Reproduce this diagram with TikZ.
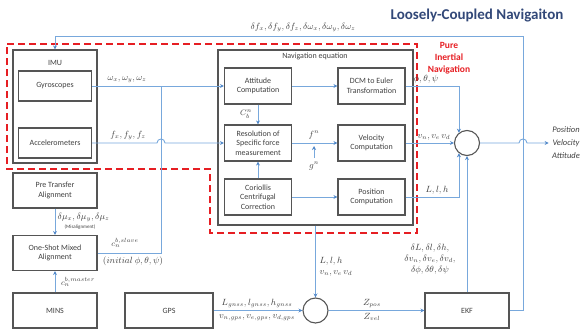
\documentclass[tikz,border=0pt]{standalone}
\usepackage{fontspec}
\setmainfont{Carlito}
\usetikzlibrary{arrows.meta}
\definecolor{wireblue}{RGB}{120,168,220}
\definecolor{tipblue}{RGB}{80,135,200}
\definecolor{framegray}{RGB}{85,85,85}
\definecolor{titleblue}{RGB}{50,72,120}
\definecolor{purered}{RGB}{230,30,35}
\tikzset{
  block/.style={draw=framegray, line width=1.1pt, align=center, text=black!75,
    font=\fontsize{8}{9.5}\selectfont, inner sep=1pt},
  navblock/.style={block, minimum width=67pt, minimum height=36pt},
  leftblock/.style={block, minimum width=84pt, minimum height=35pt},
  sumpoint/.style={circle, draw=framegray, line width=1.1pt, minimum size=25pt, inner sep=0pt},
  mathlbl/.style={font=\fontsize{9}{11}\selectfont, text=black!75, inner sep=0.5pt, align=center},
  wire/.style={draw=wireblue, line width=0.9pt},
  arrowed/.style={wire, -{Stealth[length=4pt,width=4pt,color=tipblue]}}
}
\begin{document}
\begin{tikzpicture}[x=1pt,y=-1pt]
  \useasboundingbox (0,0) rectangle (583,329);

  % outer frames
  \node[block, minimum width=84pt, minimum height=113pt] (imu) at (55,106.5) {};
  \node[block, draw=none] at (55,63) {IMU};
  \node[block, minimum width=195pt, minimum height=175pt] (nav) at (315.5,137.5) {};
  \node[block, draw=none] at (315,56) {Navigation equation};

  % blocks
  \begin{scope}[every node/.style = {navblock}]
    \node (att) at (258,86) {Attitude\\Computation};
    \node (res) at (258,143) {Resolution of\\Specific force\\measurement};
    \node (cor) at (258,197) {Coriollis\\Centrifugal\\Correction};
    \node (dcm) at (371.5,86) {DCM to Euler\\Transformation};
    \node (vel) at (371.5,143) {Velocity\\Computation};
    \node (pos) at (371.5,197) {Position\\Computation};
  \end{scope}
  \begin{scope}[every node/.style = {leftblock}]
    \node[minimum width=73pt, minimum height=30pt] (gyro) at (55,86) {Gyroscopes};
    \node[minimum width=73pt, minimum height=30pt] (acc) at (55,143) {Accelerometers};
    \node (pre) at (55,190.5) {Pre Transfer\\Alignment};
    \node (align) at (55,253) {One-Shot Mixed\\Alignment};
    \node (mins) at (55,310.5) {MINS};
    \node[minimum width=88pt] (gps) at (169,310.5) {GPS};
    \node (ekf) at (467,310.5) {EKF};
  \end{scope}
  \node[sumpoint] (sumt) at (467,143) {};
  \node[sumpoint] (sumb) at (315.5,310.5) {};

  % pure inertial part
  \draw[purered, line width=2pt, dash pattern=on 7pt off 4pt]
    (7,44) -- (417,44) -- (417,233) -- (210,233) -- (210,169) -- (7,169) -- cycle;
  \node[font=\bfseries\fontsize{9.5}{12}\selectfont, text=purered, align=center]
    at (449,58) {Pure\\Inertial\\Navigation};
  \node[font=\bfseries\fontsize{15}{18}\selectfont, text=titleblue] at (477,16)
    {Loosely-Coupled Navigaiton};

  % connectors
  \coordinate (tap) at (161,86);
  \coordinate (fn) at (314,146);
  \coordinate (fbr) at (523,36);
  \node[font=\itshape\fontsize{8.5}{13}\selectfont, text=black!75, align=center] (outtxt) at (566,143)
    {Position\\Velocity\\Attitude};
  \begin{scope}[every edge/.style = {arrowed}]
    \path (gyro) edge (att);
    \path (att) edge (res);
    \path (att) edge (dcm);
    \path (res) edge (vel);
    \path (cor) edge (res);
    \path (cor) edge (pos);
    \path (vel) edge (sumt);
    \path (ekf) edge (sumt);
    \path (nav) edge (sumb);
    \path (gps) edge (sumb);
    \path (sumb) edge (ekf);
    \path (pre) edge (align);
    \path (mins) edge (align);
  \end{scope}
  \draw[arrowed] (acc) -- (157,143) .. controls (157,137.7) and (165,137.7) .. (165,143) -- (res);
  \draw[wire] (tap) |- (align);
  \draw[arrowed] (dcm) -| (sumt.128);
  \draw[arrowed] (pos) -| (sumt.232);
  \draw[arrowed] (ekf) -| (fbr) -| (imu);
  \draw[arrowed] (sumt) -- (519,143) .. controls (519,137.7) and (527,137.7) .. (527,143) -- (outtxt.west);
  \draw[arrowed] (314,158) -- (fn);

  % labels
  \begin{scope}[every node/.style = {mathlbl}]
    \node at (303,27) {$\delta f_x, \delta f_y, \delta f_z, \delta\omega_x, \delta\omega_y, \delta\omega_z$};
    \node at (127,80) {$\omega_x, \omega_y, \omega_z$};
    \node at (128,135) {$f_x, f_y, f_z$};
    \node[font=\fontsize{8}{10}\selectfont] at (246,114) {$C_b^n$};
    \node at (314,135) {$f^n$};
    \node at (314,166) {$g^n$};
    \node at (426,79) {$\phi, \theta, \psi$};
    \node at (434,137) {$v_n, v_e\, v_d$};
    \node at (437,190) {$L, l, h$};
    \node[align=left, anchor=west] at (319,267) {$L, l, h$\\$v_n, v_e\, v_d$};
    \node at (430,259) {$\delta L, \delta l, \delta h,$\\$\delta v_n, \delta v_e, \delta v_d,$\\$\delta\phi, \delta\theta, \delta\psi$};
    \node[anchor=west] at (57,217) {$\delta\mu_x, \delta\mu_y, \delta\mu_z$};
    \node[font=\fontsize{5}{6}\selectfont] at (80,227.5) {(Misalignment)};
    \node[font=\fontsize{8}{10}\selectfont] at (78,282) {$c_n^{b,master}$};
    \node[font=\fontsize{8}{10}\selectfont] at (125,243) {$c_n^{b,slave}$};
    \node at (133,261) {$(initial\ \phi, \theta, \psi)$};
    \node at (257,303) {$L_{gnss}, l_{gnss}, h_{gnss}$};
    \node at (257,318) {$v_{n,gps}, v_{e,gps}, v_{d,gps}$};
    \node at (372,304) {$Z_{pos}$};
    \node at (372,317) {$Z_{vel}$};
  \end{scope}
\end{tikzpicture}
\end{document}
